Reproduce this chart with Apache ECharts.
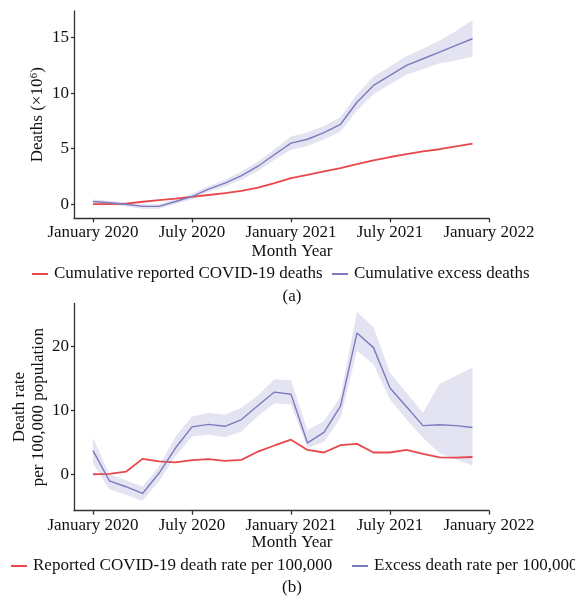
<!DOCTYPE html>
<html>
<head>
<meta charset="utf-8">
<style>html,body{margin:0;padding:0;background:#fff;}#chart{width:575px;height:596px;}</style>
<script src="https://cdn.jsdelivr.net/npm/echarts@6/dist/echarts.min.js"></script>
</head>
<body>
<div id="chart"></div>
<script>
// Months Jan 2020 .. Dec 2021
const months = ['2020-01','2020-02','2020-03','2020-04','2020-05','2020-06','2020-07','2020-08','2020-09','2020-10','2020-11','2020-12',
                '2021-01','2021-02','2021-03','2021-04','2021-05','2021-06','2021-07','2021-08','2021-09','2021-10','2021-11','2021-12'];
const tickMonths = [0, 6, 12, 18, 24];
const tickLabels = ['January 2020', 'July 2020', 'January 2021', 'July 2021', 'January 2022'];

// (a) cumulative deaths, millions
const reportedCum = [0, 0.01, 0.05, 0.22, 0.37, 0.5, 0.66, 0.83, 1.0, 1.2, 1.5, 1.9, 2.35, 2.65, 2.95, 3.25, 3.6, 3.95, 4.25, 4.5, 4.75, 4.95, 5.2, 5.45];
const excessCum = [0.24, 0.13, 0, -0.2, -0.2, 0.24, 0.69, 1.36, 1.9, 2.57, 3.42, 4.48, 5.5, 5.85, 6.45, 7.2, 9.18, 10.7, 11.6, 12.5, 13.1, 13.7, 14.3, 14.9];
const excessCumLow = [0.05, -0.05, -0.2, -0.4, -0.4, 0.02, 0.45, 1.1, 1.6, 2.2, 3.0, 4.0, 4.9, 5.25, 5.85, 6.55, 8.45, 9.9, 10.8, 11.65, 12.15, 12.7, 12.95, 13.3];
const excessCumHigh = [0.42, 0.3, 0.2, 0.0, 0.0, 0.46, 0.93, 1.62, 2.2, 2.95, 3.85, 4.95, 6.1, 6.45, 7.05, 7.85, 9.9, 11.5, 12.4, 13.35, 14.0, 14.75, 15.6, 16.6];
const cumTicks = [0, 5, 10, 15];

// (b) death rate per 100,000
const reportedRate = [0, 0.05, 0.4, 2.4, 2.0, 1.85, 2.2, 2.35, 2.1, 2.25, 3.55, 4.5, 5.4, 3.8, 3.4, 4.55, 4.75, 3.4, 3.4, 3.8, 3.2, 2.65, 2.6, 2.7];
const excessRate = [3.7, -1.05, -1.95, -3.0, 0.15, 4.1, 7.4, 7.8, 7.5, 8.55, 10.75, 12.85, 12.5, 4.9, 6.55, 10.65, 22.1, 19.8, 13.5, 10.55, 7.6, 7.75, 7.6, 7.3];
const excessRateLow = [1.7, -2.4, -3.2, -4.15, -1.1, 2.8, 5.9, 6.2, 5.8, 6.7, 9.1, 11.1, 10.9, 4.1, 5.1, 8.8, 19.3, 17.2, 11.7, 8.55, 5.7, 3.3, 2.35, 1.35];
const excessRateHigh = [5.7, 0.0, -0.95, -1.95, 1.2, 5.9, 9.0, 9.6, 9.3, 10.4, 12.3, 14.85, 14.7, 6.9, 8.3, 12.2, 25.4, 23.0, 15.9, 12.75, 9.6, 14.1, 15.4, 16.7];
const rateTicks = [0, 10, 20];

const FONT = 'Liberation Serif';
const RED = '#e8474c';
const BLUE = '#7c7bbd';
const BAND = 'rgba(175,175,218,0.35)';
const AXIS = '#333333';
const TXT = '#111111';

const pts = arr => arr.map((v, i) => [i, v]);

function xAxisCfg(gridIndex) {
  return {
    type: 'value', gridIndex, min: -1.15, max: 24,
    axisLine: { show: true, onZero: false, lineStyle: { color: AXIS, width: 1.3 } },
    axisTick: { show: true, length: 4, customValues: tickMonths, lineStyle: { color: AXIS, width: 1.3 } },
    axisLabel: {
      customValues: tickMonths, margin: 6, color: TXT, fontFamily: FONT, fontSize: 17,
      formatter: v => tickLabels[tickMonths.indexOf(v)]
    },
    splitLine: { show: false }
  };
}
function yAxisCfg(gridIndex, min, max, ticks, name, nameGap) {
  return {
    type: 'value', gridIndex, min, max,
    name, nameLocation: 'middle', nameRotate: 90, nameGap, nameMoveOverlap: false,
    nameTextStyle: { fontFamily: FONT, fontSize: 17, color: TXT, lineHeight: 19 },
    axisLine: { show: true, onZero: false, lineStyle: { color: AXIS, width: 1.3 } },
    axisTick: { show: true, length: 3, customValues: ticks, lineStyle: { color: AXIS, width: 1.3 } },
    axisLabel: { customValues: ticks, margin: 5, color: TXT, fontFamily: FONT, fontSize: 17 },
    splitLine: { show: false }
  };
}
function bandSeries(idx, lo, hi) {
  return {
    type: 'custom', xAxisIndex: idx, yAxisIndex: idx, silent: true, z: 1,
    data: [[0, lo[0]]],
    renderItem: (params, api) => {
      const upper = hi.map((v, i) => api.coord([i, v]));
      const lower = lo.map((v, i) => api.coord([i, v])).reverse();
      return { type: 'polygon', shape: { points: upper.concat(lower) }, style: { fill: BAND } };
    }
  };
}
function lineSeries(idx, name, data, color, width) {
  return { type: 'line', name, xAxisIndex: idx, yAxisIndex: idx, data: pts(data), symbol: 'none',
    lineStyle: { color, width }, itemStyle: { color }, z: 3 };
}
function legendCfg(left, top, name) {
  return { left, top, itemWidth: 16, itemHeight: 2, icon: 'rect', itemGap: 5,
    textStyle: { fontFamily: FONT, fontSize: 17, color: TXT, padding: [0, 0, 0, 1] },
    data: [name] };
}
const textEl = (x, y, text) => ({ type: 'text', x, y,
  style: { text, font: '17px "Liberation Serif"', fill: TXT, align: 'center', verticalAlign: 'middle' } });

const chart = echarts.init(document.getElementById('chart'), null, { renderer: 'canvas' });
chart.setOption({
  animation: false,
  textStyle: { fontFamily: FONT },
  grid: [
    { left: 74, width: 415, top: 11, height: 207.3 },
    { left: 74, width: 415, top: 303.5, height: 207.2 }
  ],
  xAxis: [xAxisCfg(0), xAxisCfg(1)],
  yAxis: [
    yAxisCfg(0, -1.27, 17.4, cumTicks, 'Deaths (×10⁶)', 27),
    yAxisCfg(1, -5.7, 26.7, rateTicks, 'Death rate\nper 100,000 population', 26)
  ],
  legend: [
    legendCfg(27, 260.5, 'Cumulative reported COVID-19 deaths'),
    legendCfg(327, 260.5, 'Cumulative excess deaths'),
    legendCfg(6, 552.5, 'Reported COVID-19 death rate per 100,000'),
    legendCfg(347, 552.5, 'Excess death rate per 100,000')
  ],
  graphic: [
    textEl(292, 251.5, 'Month Year'),
    textEl(292, 297, '(a)'),
    textEl(292, 542.5, 'Month Year'),
    textEl(292, 588, '(b)')
  ],
  series: [
    bandSeries(0, excessCumLow, excessCumHigh),
    lineSeries(0, 'Cumulative reported COVID-19 deaths', reportedCum, RED, 1.8),
    lineSeries(0, 'Cumulative excess deaths', excessCum, BLUE, 1.4),
    bandSeries(1, excessRateLow, excessRateHigh),
    lineSeries(1, 'Reported COVID-19 death rate per 100,000', reportedRate, RED, 1.8),
    lineSeries(1, 'Excess death rate per 100,000', excessRate, BLUE, 1.4)
  ]
});
</script>
</body>
</html>
